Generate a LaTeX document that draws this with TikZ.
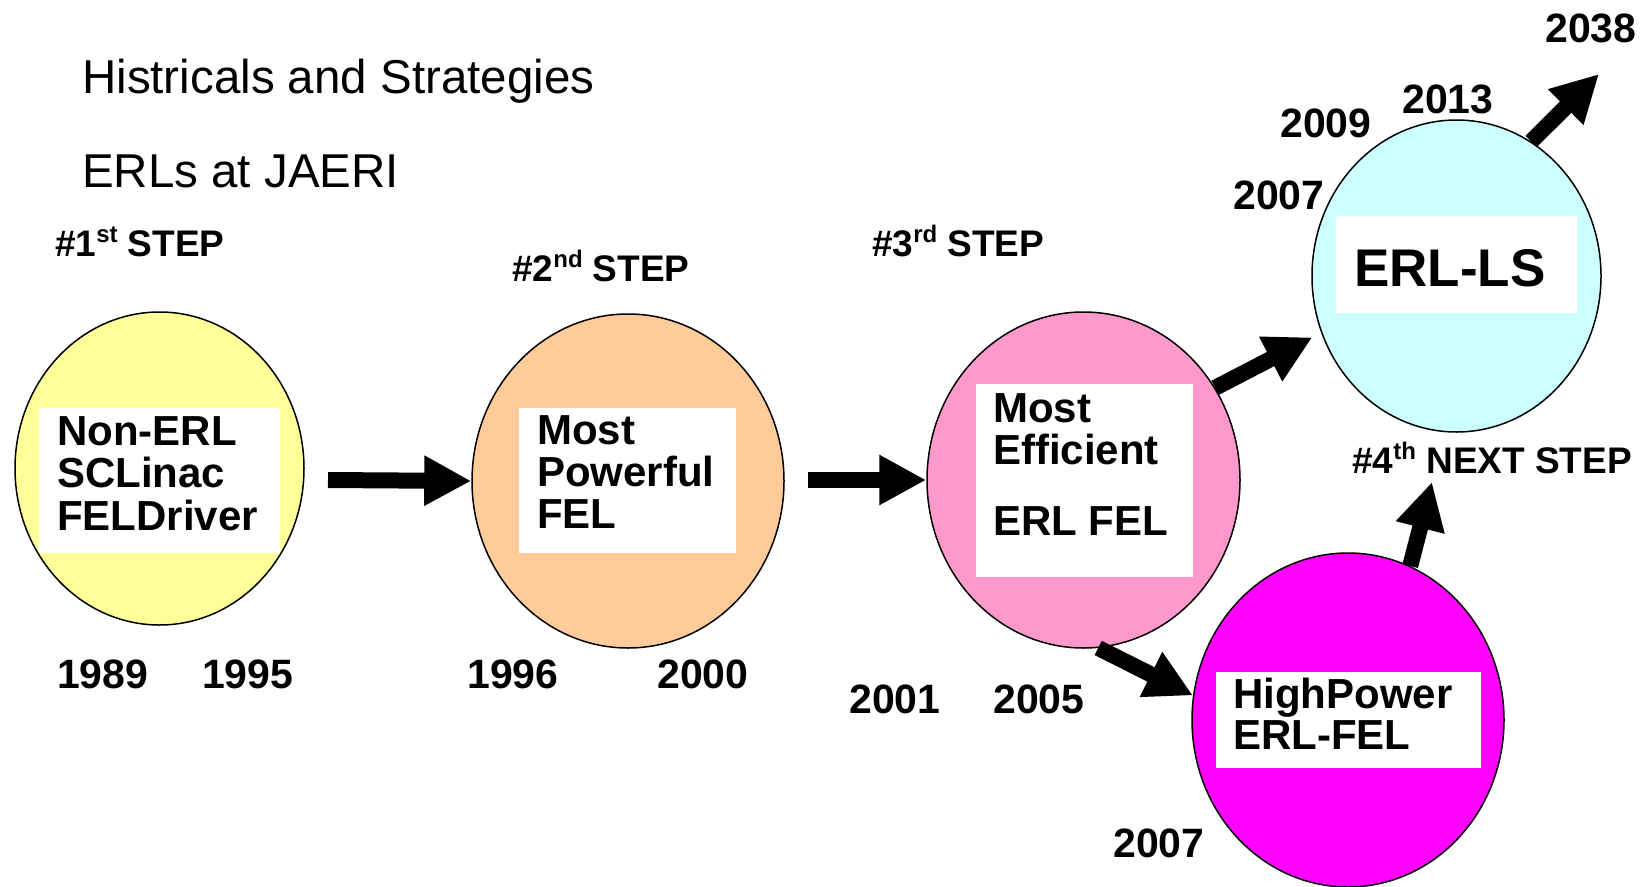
\documentclass[tikz,border=0pt]{standalone}
\usepackage{fontspec}
\setmainfont{Liberation Sans}
\usetikzlibrary{shapes.geometric,arrows.meta,calc}
\definecolor{cyel}{HTML}{FFFF99}
\definecolor{corg}{HTML}{FFCC99}
\definecolor{cpink}{HTML}{FF99CC}
\definecolor{cmag}{HTML}{FF00FF}
\definecolor{ccyan}{HTML}{CCFFFF}
\newcommand\supr[1]{\raisebox{14pt}{\fontsize{24}{24}\selectfont #1}}
\tikzset{
  circ/.style={ellipse, draw=black, line width=1.5pt, inner sep=0pt},
  wbox/.style={fill=white, draw=none, inner sep=0pt},
  lbl/.style={anchor=base west, inner sep=0pt, font=\bfseries\fontsize{42}{41.5}\selectfont},
  yr/.style={anchor=base west, inner sep=0pt, font=\bfseries\fontsize{41}{41}\selectfont},
  steplbl/.style={anchor=base west, inner sep=0pt, font=\bfseries\fontsize{37}{37}\selectfont},
  ttl/.style={anchor=base west, inner sep=0pt, font=\fontsize{47.5}{47.5}\selectfont},
  blk/.style={line width=16pt, -{Triangle[length=47pt,width=47pt]}},
}
\begin{document}
\begin{tikzpicture}[x=1pt,y=-1pt]
\useasboundingbox (0,0) rectangle (1646,886);
\fill[white] (0,0) rectangle (1646,886);
% titles
\node[ttl] (title) at (82,93) {Histricals and Strategies};
\node[ttl] (sub) at (82,187) {ERLs at JAERI};
% circles
\node[circ, fill=cyel, minimum width=289pt, minimum height=313pt] (c1) at (159.5,468.5) {};
\node[circ, fill=corg, minimum width=312pt, minimum height=334pt] (c2) at (628,481) {};
\node[circ, fill=cpink, minimum width=313pt, minimum height=336pt] (c3) at (1083.5,480) {};
\node[circ, fill=ccyan, minimum width=289pt, minimum height=312pt] (c4) at (1456.5,276) {};
\node[circ, fill=cmag, minimum width=312pt, minimum height=334pt] (c5) at (1348,720) {};
% white boxes
\node[wbox, minimum width=241pt, minimum height=145pt] (b1) at (159.5,480.5) {};
\node[wbox, minimum width=217pt, minimum height=145pt] (b2) at (627.5,480.5) {};
\node[wbox, minimum width=217pt, minimum height=193pt] (b3) at (1084.5,480.5) {};
\node[wbox, minimum width=241pt, minimum height=97pt] (b4) at (1456.5,264.5) {};
\node[wbox, minimum width=265pt, minimum height=96pt] (b5) at (1348.5,720) {};
% box texts
\node[lbl] (t1) at (57,445) {\begin{tabular}[t]{@{}l@{}}Non-ERL\\SCLinac\\FELDriver\end{tabular}};
\node[lbl] (t2) at (537,444) {\begin{tabular}[t]{@{}l@{}}Most\\Powerful\\FEL\end{tabular}};
\node[lbl] (t3) at (993,422) {\begin{tabular}[t]{@{}l@{}}Most\\Efficient\\[29.5pt]ERL FEL\end{tabular}};
\node[anchor=base west, inner sep=0pt, font=\bfseries\fontsize{53}{53}\selectfont] (t4) at (1354,286) {ERL-LS};
\node[lbl] (t5) at (1233,708) {\begin{tabular}[t]{@{}l@{}}HighPower\\ERL-FEL\end{tabular}};
% step labels
\node[steplbl] (s1) at (55,256) {\#1\supr{st} STEP};
\node[steplbl] (s2) at (512,281) {\#2\supr{nd} STEP};
\node[steplbl] (s3) at (872,256) {\#3\supr{rd} STEP};
\node[steplbl] (s4) at (1352,473) {\#4\supr{th} NEXT STEP};
% years
\node[yr] (y1989) at (57,688) {1989};
\node[yr] (y1995) at (202,688) {1995};
\node[yr] (y1996) at (467,688) {1996};
\node[yr] (y2000) at (657,688) {2000};
\node[yr] (y2001) at (849,713) {2001};
\node[yr] (y2005) at (993,713) {2005};
\node[yr] (y2007b) at (1113,857) {2007};
\node[yr] (y2007a) at (1233,209) {2007};
\node[yr] (y2009) at (1280,137) {2009};
\node[yr] (y2013) at (1402,113) {2013};
\node[yr] (y2038) at (1545,42) {2038};
% arrows
\coordinate (a1s) at (328,480);
\coordinate (a2s) at (808,480);
\coordinate (a4e) at (1599,74);
\coordinate (a6e) at (1432,482);
\draw[blk] (a1s) -- (c2.west);
\draw[blk] (a2s) -- (c3.west);
\draw[blk] (c3.35) -- ($(c4.203)+(-9,4)$);
\draw[blk] (c4.61) -- (a4e);
\draw[blk] (c3.275) -- (c5.171);
\draw[blk] (c5.68) -- (a6e);
\end{tikzpicture}
\end{document}
